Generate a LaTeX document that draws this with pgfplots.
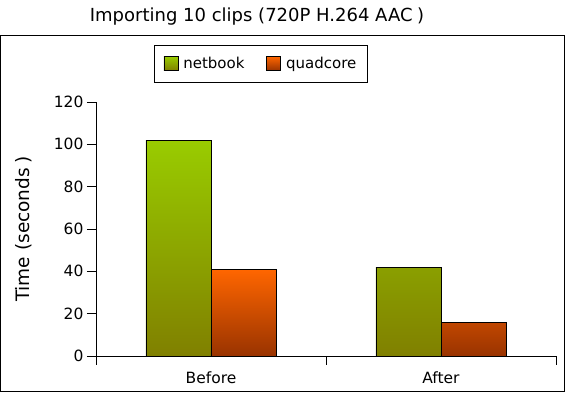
\documentclass[border=0pt]{standalone}
\usepackage{pgfplots}
\pgfplotsset{compat=1.18}
\usepackage{fontspec}
\setmainfont{DejaVu Sans}
\definecolor{ntop}{HTML}{99CC00}
\definecolor{nbot}{HTML}{808000}
\definecolor{qtop}{HTML}{FF6600}
\definecolor{qbot}{HTML}{993300}
\begin{document}
\begin{tikzpicture}[x=1pt,y=1pt]
\path[use as bounding box] (-96,-39) rectangle (469,356);
\draw[line width=1pt] (-95,-36) rectangle (468,320);
\node[font=\fontsize{18}{20}\selectfont] at (161,339) {Importing 10 clips (720P H.264 AAC\kern0.25em)};
\begin{axis}[
  at={(0pt,0pt)}, anchor=south west,
  scale only axis,
  width=460pt, height=254pt,
  xmin=-0.5, xmax=1.5,
  ymin=0, ymax=120,
  axis lines=left,
  axis line style={-, line width=0.8pt},
  ytick={0,20,...,120},
  xtick={-0.5,0.5,1.5},
  xticklabels={},
  extra x ticks={0,1},
  extra x tick labels={Before,After},
  extra x tick style={major tick length=0pt, tick label style={yshift=-12pt}},
  tick align=outside,
  major tick length=9pt,
  tick style={line width=0.8pt, black},
  ticklabel style={font=\fontsize{15.5}{17}\selectfont},
  /pgf/number format/assume math mode=true,
  ylabel={Time (seconds\kern0.25em)},
  ylabel style={font=\fontsize{18.5}{20}\selectfont, at={(axis description cs:-0.1565,0.5)}, anchor=center},
  ybar, bar width=65pt,
  legend style={at={(0.3587,1.1516)}, anchor=center, legend columns=2, draw=black, line width=0.8pt,
    font=\fontsize{15}{17}\selectfont, inner xsep=9pt, inner ysep=10pt,
    /tikz/every odd column/.style={column sep=3pt},
    /tikz/every even column/.style={column sep=20pt}},
  legend image code/.code={\draw[#1, line width=0.6pt] (0pt,-7pt) rectangle (14pt,7pt);},
  clip=false,
]
\addplot[draw=black, line width=0.8pt, top color=ntop, bottom color=nbot, bar shift=-32.5pt] coordinates {(0,102) (1,42)};
\addplot[draw=black, line width=0.8pt, top color=qtop, bottom color=qbot, bar shift=32.5pt] coordinates {(0,41) (1,16)};
\legend{netbook,quadcore}
\end{axis}
\end{tikzpicture}
\end{document}
